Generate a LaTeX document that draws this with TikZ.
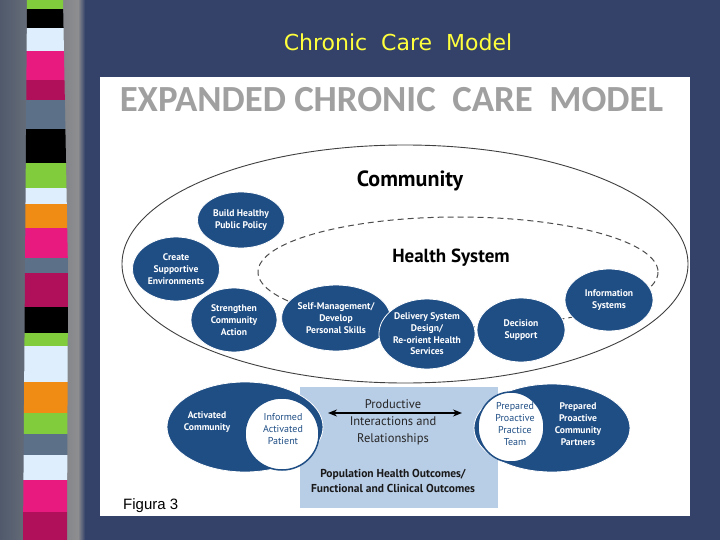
\documentclass[tikz,border=0pt]{standalone}
\usepackage{fontspec}
\setmainfont{PT Sans}
\newfontfamily\carl{Carlito}
\newfontfamily\libs{Liberation Sans}
\newfontfamily\dejv{DejaVu Sans}
\usetikzlibrary{shapes.geometric,arrows.meta}
\definecolor{navy}{RGB}{52,66,106}
\definecolor{gleft}{RGB}{80,90,108}
\definecolor{gright}{RGB}{142,142,144}
\definecolor{sgreen}{RGB}{128,204,60}
\definecolor{slight}{RGB}{222,238,252}
\definecolor{spink}{RGB}{232,26,128}
\definecolor{smag}{RGB}{176,16,90}
\definecolor{sslate}{RGB}{92,112,136}
\definecolor{sorange}{RGB}{240,140,20}
\definecolor{ttlgray}{RGB}{160,160,160}
\definecolor{cblue}{RGB}{31,78,133}
\definecolor{rblue}{RGB}{184,205,230}
\definecolor{titley}{RGB}{255,255,60}
\begin{document}
\begin{tikzpicture}[x=1pt,y=-1pt,
  bub/.style={ellipse, fill=cblue, draw=white, line width=0.8pt, inner sep=0pt,
    text=white, align=center, font=\bfseries\fontsize{9.6}{12}\selectfont},
  wbub/.style={ellipse, fill=white, draw=cblue, line width=1.5pt, inner sep=0pt},
  lbl/.style={inner sep=0pt, align=center}
]
\useasboundingbox (0,0) rectangle (720,540);
% background
\fill[navy] (0,0) rectangle (720,540);
\shade[left color=gleft, right color=gright] (0,0) rectangle (78,540);
\shade[left color=gright, right color=navy] (78,0) rectangle (85,540);
% stripes
\begin{scope}
\clip (27,0) -- (63,0) -- (68,270) -- (67,540) -- (23,540) -- (25,270) -- cycle;
\fill[sgreen] (0,0) rectangle (100,9);
\fill[black] (0,9) rectangle (100,28);
\fill[slight] (0,28) rectangle (100,51);
\fill[spink] (0,51) rectangle (100,80);
\fill[smag] (0,80) rectangle (100,100);
\fill[sslate] (0,100) rectangle (100,129);
\fill[black] (0,129) rectangle (100,163);
\fill[sgreen] (0,163) rectangle (100,188);
\fill[slight] (0,188) rectangle (100,204);
\fill[sorange] (0,204) rectangle (100,228);
\fill[spink] (0,228) rectangle (100,258);
\fill[sslate] (0,258) rectangle (100,273);
\fill[smag] (0,273) rectangle (100,307);
\fill[black] (0,307) rectangle (100,333);
\fill[sgreen] (0,333) rectangle (100,346);
\fill[slight] (0,346) rectangle (100,382);
\fill[sorange] (0,382) rectangle (100,413);
\fill[sgreen] (0,413) rectangle (100,434);
\fill[sslate] (0,434) rectangle (100,455);
\fill[slight] (0,455) rectangle (100,480);
\fill[spink] (0,480) rectangle (100,512);
\fill[smag] (0,512) rectangle (100,540);
\end{scope}
% title
\node[lbl, text=titley, font=\dejv\fontsize{22}{24}\selectfont, anchor=base] (title) at (398,51)
  {Chronic\ \ Care\ \ Model};
% white panel
\fill[white] (100,77) rectangle (690,516);
\node[lbl, text=ttlgray, font=\carl\bfseries\fontsize{36.8}{40}\selectfont, anchor=base] (head) at (391.5,112)
  {EXPANDED CHRONIC\ \ CARE\ \ MODEL};
% community ellipse
\draw[line width=0.9pt, black!75] (405,264) ellipse [x radius=283, y radius=119];
% health system dashed ellipse
\draw[line width=1pt, black!70, dash pattern=on 6pt off 4pt] (458,272) ellipse [x radius=200, y radius=55];
\node[lbl, font=\bfseries\fontsize{22}{24}\selectfont] (comm) at (410,181) {Community};
\node[lbl, font=\bfseries\fontsize{19}{22}\selectfont] (hs) at (451,258) {Health System};
% community bubbles
\node[bub, minimum width=87, minimum height=56] (bhpp) at (241,220) {Build Healthy\\Public Policy};
\node[bub, minimum width=87, minimum height=64] (cse) at (176,269) {Create\\Supportive\\Environments};
\node[bub, minimum width=86, minimum height=64] (sca) at (234,320) {Strengthen\\Community\\Action};
% health system bubbles
\node[bub, minimum width=88, minimum height=66] (smd) at (336,318) {Self-Management/\\Develop\\Personal Skills};
\node[bub, minimum width=90, minimum height=70, font=\bfseries\fontsize{9.6}{11.7}\selectfont] (dsd) at (427,334) {Delivery System\\Design/\\Re-orient Health\\Services};
\node[bub, minimum width=88, minimum height=64] (ds) at (521,330) {Decision\\Support};
\node[bub, minimum width=88, minimum height=62] (is) at (609,300) {Information\\Systems};
% bottom
\fill[rblue] (300,387) rectangle (498,508);
\node[bub, minimum width=156, minimum height=90] (acomm) at (245,427) {};
\node[lbl, text=white, font=\bfseries\fontsize{9.6}{12}\selectfont] (acommt) at (207,422) {Activated\\Community};
\node[wbub, minimum width=74, minimum height=72] (iap) at (282,434) {};
\node[lbl, text=cblue, font=\fontsize{10}{12}\selectfont] (iapt) at (283,429) {Informed\\Activated\\Patient};
\node[bub, minimum width=156, minimum height=88] (ppcp) at (552,428) {};
\node[wbub, minimum width=66, minimum height=70] (ppt) at (511,427) {};
\node[lbl, text=cblue, font=\fontsize{10}{12}\selectfont] (pptt) at (515,424) {Prepared\\Proactive\\Practice\\Team};
\node[lbl, text=white, font=\bfseries\fontsize{9.6}{12}\selectfont] (ppcpt) at (578,424) {Prepared\\Proactive\\Community\\Partners};
% productive interactions
\coordinate (pl) at (328,413);
\coordinate (pr) at (462,413);
\draw[line width=1.5pt, {Stealth[length=9pt,width=7pt]}-{Stealth[length=9pt,width=7pt]}] (pl) -- (pr);
\node[lbl, text=black!85, font=\fontsize{12.5}{17}\selectfont] (prod) at (393,422) {Productive\\Interactions and\\Relationships};
\node[lbl, text=black!90, font=\bfseries\fontsize{11.5}{15.5}\selectfont] (pop) at (393,481) {Population Health Outcomes/\\Functional and Clinical Outcomes};
% figure label
\node[lbl, font=\libs\fontsize{15}{17}\selectfont, anchor=base west] (fig) at (123,509) {Figura 3};
\end{tikzpicture}
\end{document}
